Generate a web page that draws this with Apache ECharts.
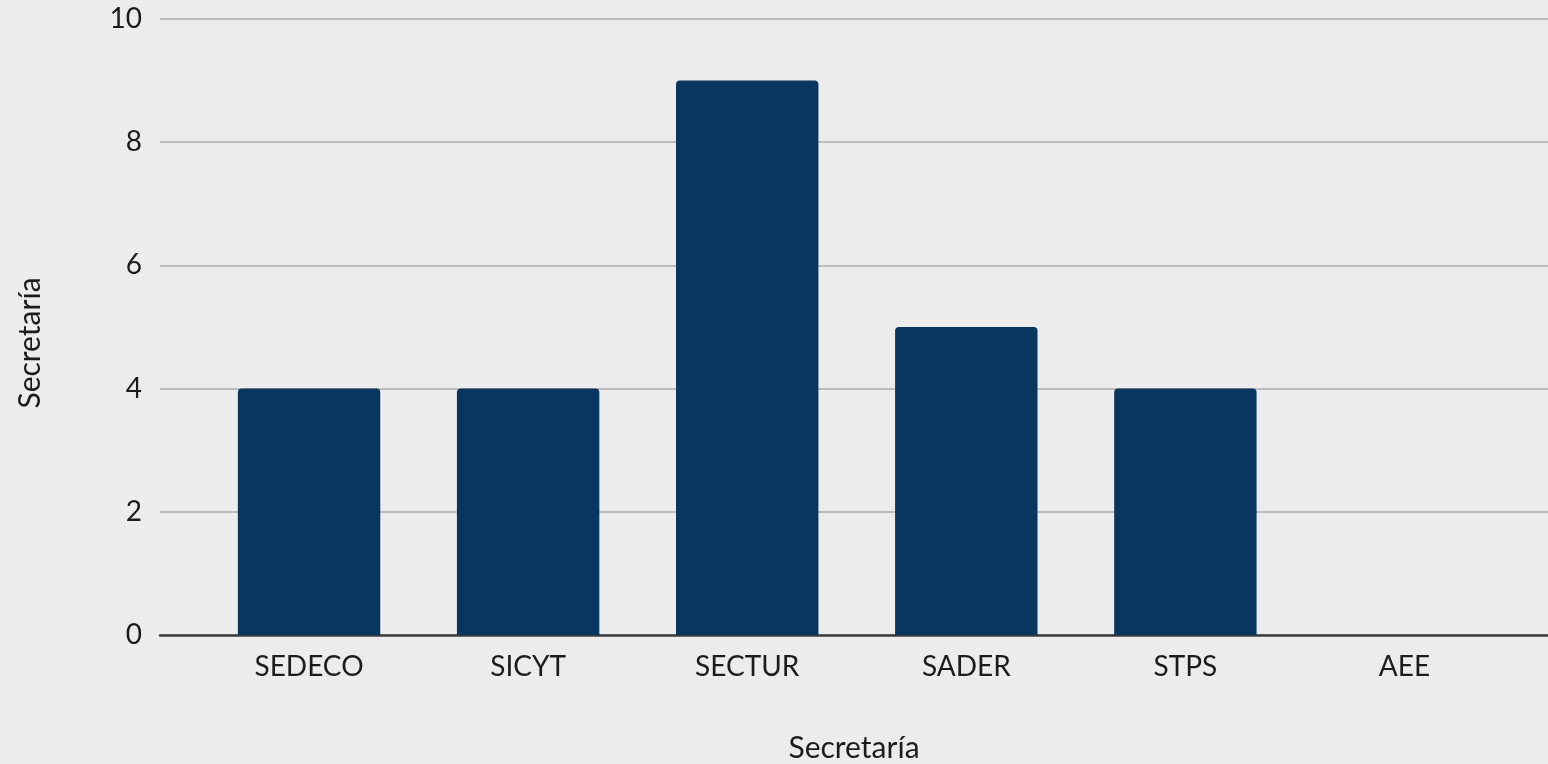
<!DOCTYPE html>
<html>
<head>
<meta charset="utf-8">
<script src="https://cdn.jsdelivr.net/npm/echarts@6/dist/echarts.min.js"></script>
<style>
html,body{margin:0;padding:0;background:#ececec;}
#c{width:1548px;height:764px;}
</style>
</head>
<body>
<div id="c"></div>
<script>
const categories = ['SEDECO', 'SICYT', 'SECTUR', 'SADER', 'STPS', 'AEE'];
const values = [4, 4, 9, 5, 4, 0];
const xAxisName = 'Secretaría';
const yAxisName = 'Secretaría';

const font = 'Lato, "Open Sans", sans-serif';
const txt = '#1c1c1c';
const chart = echarts.init(document.getElementById('c'));
chart.setOption({
  backgroundColor: '#ececec',
  animation: false,
  grid: [
    {left: 160, right: 0, top: 19, bottom: 129, outerBoundsMode: 'none'},
    {left: 199.5, right: 34, top: 19, bottom: 129, outerBoundsMode: 'none'}
  ],
  xAxis: [
    {
      type: 'value', gridIndex: 0, min: 0, max: 1,
      axisLine: {show: true, lineStyle: {color: '#3c3c3c', width: 2.5}},
      axisTick: {show: false}, axisLabel: {show: false}, splitLine: {show: false},
      name: xAxisName, nameLocation: 'middle', nameGap: 98,
      nameTextStyle: {fontFamily: font, fontSize: 30, color: txt}
    },
    {
      type: 'category', gridIndex: 1, data: categories,
      axisLine: {show: false}, axisTick: {show: false},
      axisLabel: {fontFamily: font, fontSize: 28, color: txt, margin: 18}
    }
  ],
  yAxis: [
    {
      type: 'value', gridIndex: 0, min: 0, max: 10, interval: 2,
      axisLine: {show: false}, axisTick: {show: false},
      axisLabel: {fontFamily: font, fontSize: 28, color: txt, margin: 18},
      splitLine: {show: true, lineStyle: {color: '#bcbcbc', width: 2}},
      name: yAxisName, nameLocation: 'middle', nameGap: 115, nameRotate: 90,
      nameTextStyle: {fontFamily: font, fontSize: 30, color: txt, padding: [0, 32, 0, 0]}
    },
    {
      type: 'value', gridIndex: 1, min: 0, max: 10, show: false
    }
  ],
  series: [{
    type: 'bar', xAxisIndex: 1, yAxisIndex: 1, data: values,
    barWidth: '65%',
    itemStyle: {color: '#08365f', borderRadius: [4, 4, 0, 0]}
  }]
});
</script>
</body>
</html>
